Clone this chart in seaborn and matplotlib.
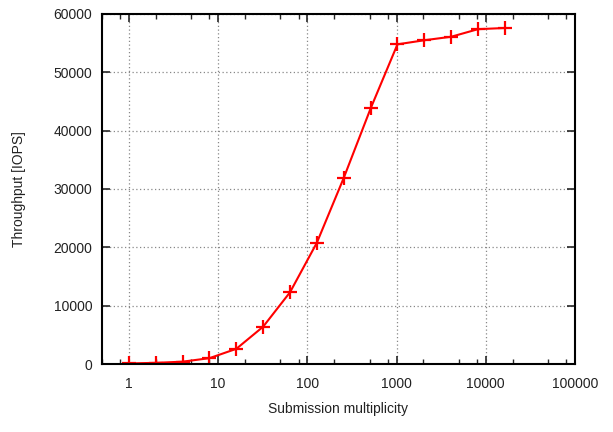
import numpy as np
import pandas as pd
import seaborn as sns
import matplotlib.pyplot as plt
from matplotlib.ticker import LogLocator, FixedLocator, NullFormatter

multiplicity = [1, 2, 4, 8, 16, 32, 64, 128, 256, 512, 1024, 2048, 4096, 8192, 16384]
throughput = [100, 200, 400, 1000, 2600, 6400, 12300, 20800, 31900, 43800,
              54800, 55500, 56100, 57400, 57600]
x_ticks = [1, 10, 100, 1000, 10000, 100000]
x_tick_labels = ['1', '10', '100', '1000', '10000', '100000']
y_ticks = [0, 10000, 20000, 30000, 40000, 50000, 60000]

df = pd.DataFrame({'multiplicity': multiplicity, 'throughput': throughput})

sns.set_style('ticks')
plt.rcParams['font.family'] = ['Liberation Sans', 'DejaVu Sans']

fig = plt.figure(figsize=(6.13, 4.32), dpi=100)
ax = fig.add_axes([0.1664, 0.1574, 0.938 - 0.1664, 0.9676 - 0.1574])

# red line with '+' points, gnuplot style
sns.lineplot(data=df, x='multiplicity', y='throughput', ax=ax, color='#ff0000',
             marker='+', markersize=10, markeredgewidth=1.6,
             markeredgecolor='#ff0000', linewidth=1.5)

ax.set_xscale('log')
ax.set_xlim(0.5, 100000)
ax.set_ylim(0, 60000)
ax.xaxis.set_major_locator(FixedLocator(x_ticks))
ax.set_xticklabels(x_tick_labels)
ax.xaxis.set_minor_locator(LogLocator(base=10, subs=(2, 5, 8)))
ax.xaxis.set_minor_formatter(NullFormatter())
ax.set_yticks(y_ticks)
ax.set_yticklabels([str(v) for v in y_ticks])

ax.grid(True, which='major', linestyle=(0, (1, 2)), color='#888888', linewidth=0.9)
ax.tick_params(which='both', direction='in', top=True, right=True, labelsize=10,
               labelcolor='#222222')
ax.tick_params(axis='x', pad=9)
ax.tick_params(axis='y', pad=7)
ax.tick_params(which='major', length=6, width=1.2)
ax.tick_params(which='minor', length=3.5, width=1.0)
for s in ax.spines.values():
    s.set_linewidth(1.5)
    s.set_color('black')

ax.set_xlabel('Submission multiplicity', fontsize=10, color='#222222', labelpad=8)
ax.set_ylabel('Throughput [IOPS]', fontsize=10, color='#222222', labelpad=20)

fig.savefig('out.png', dpi=100)
